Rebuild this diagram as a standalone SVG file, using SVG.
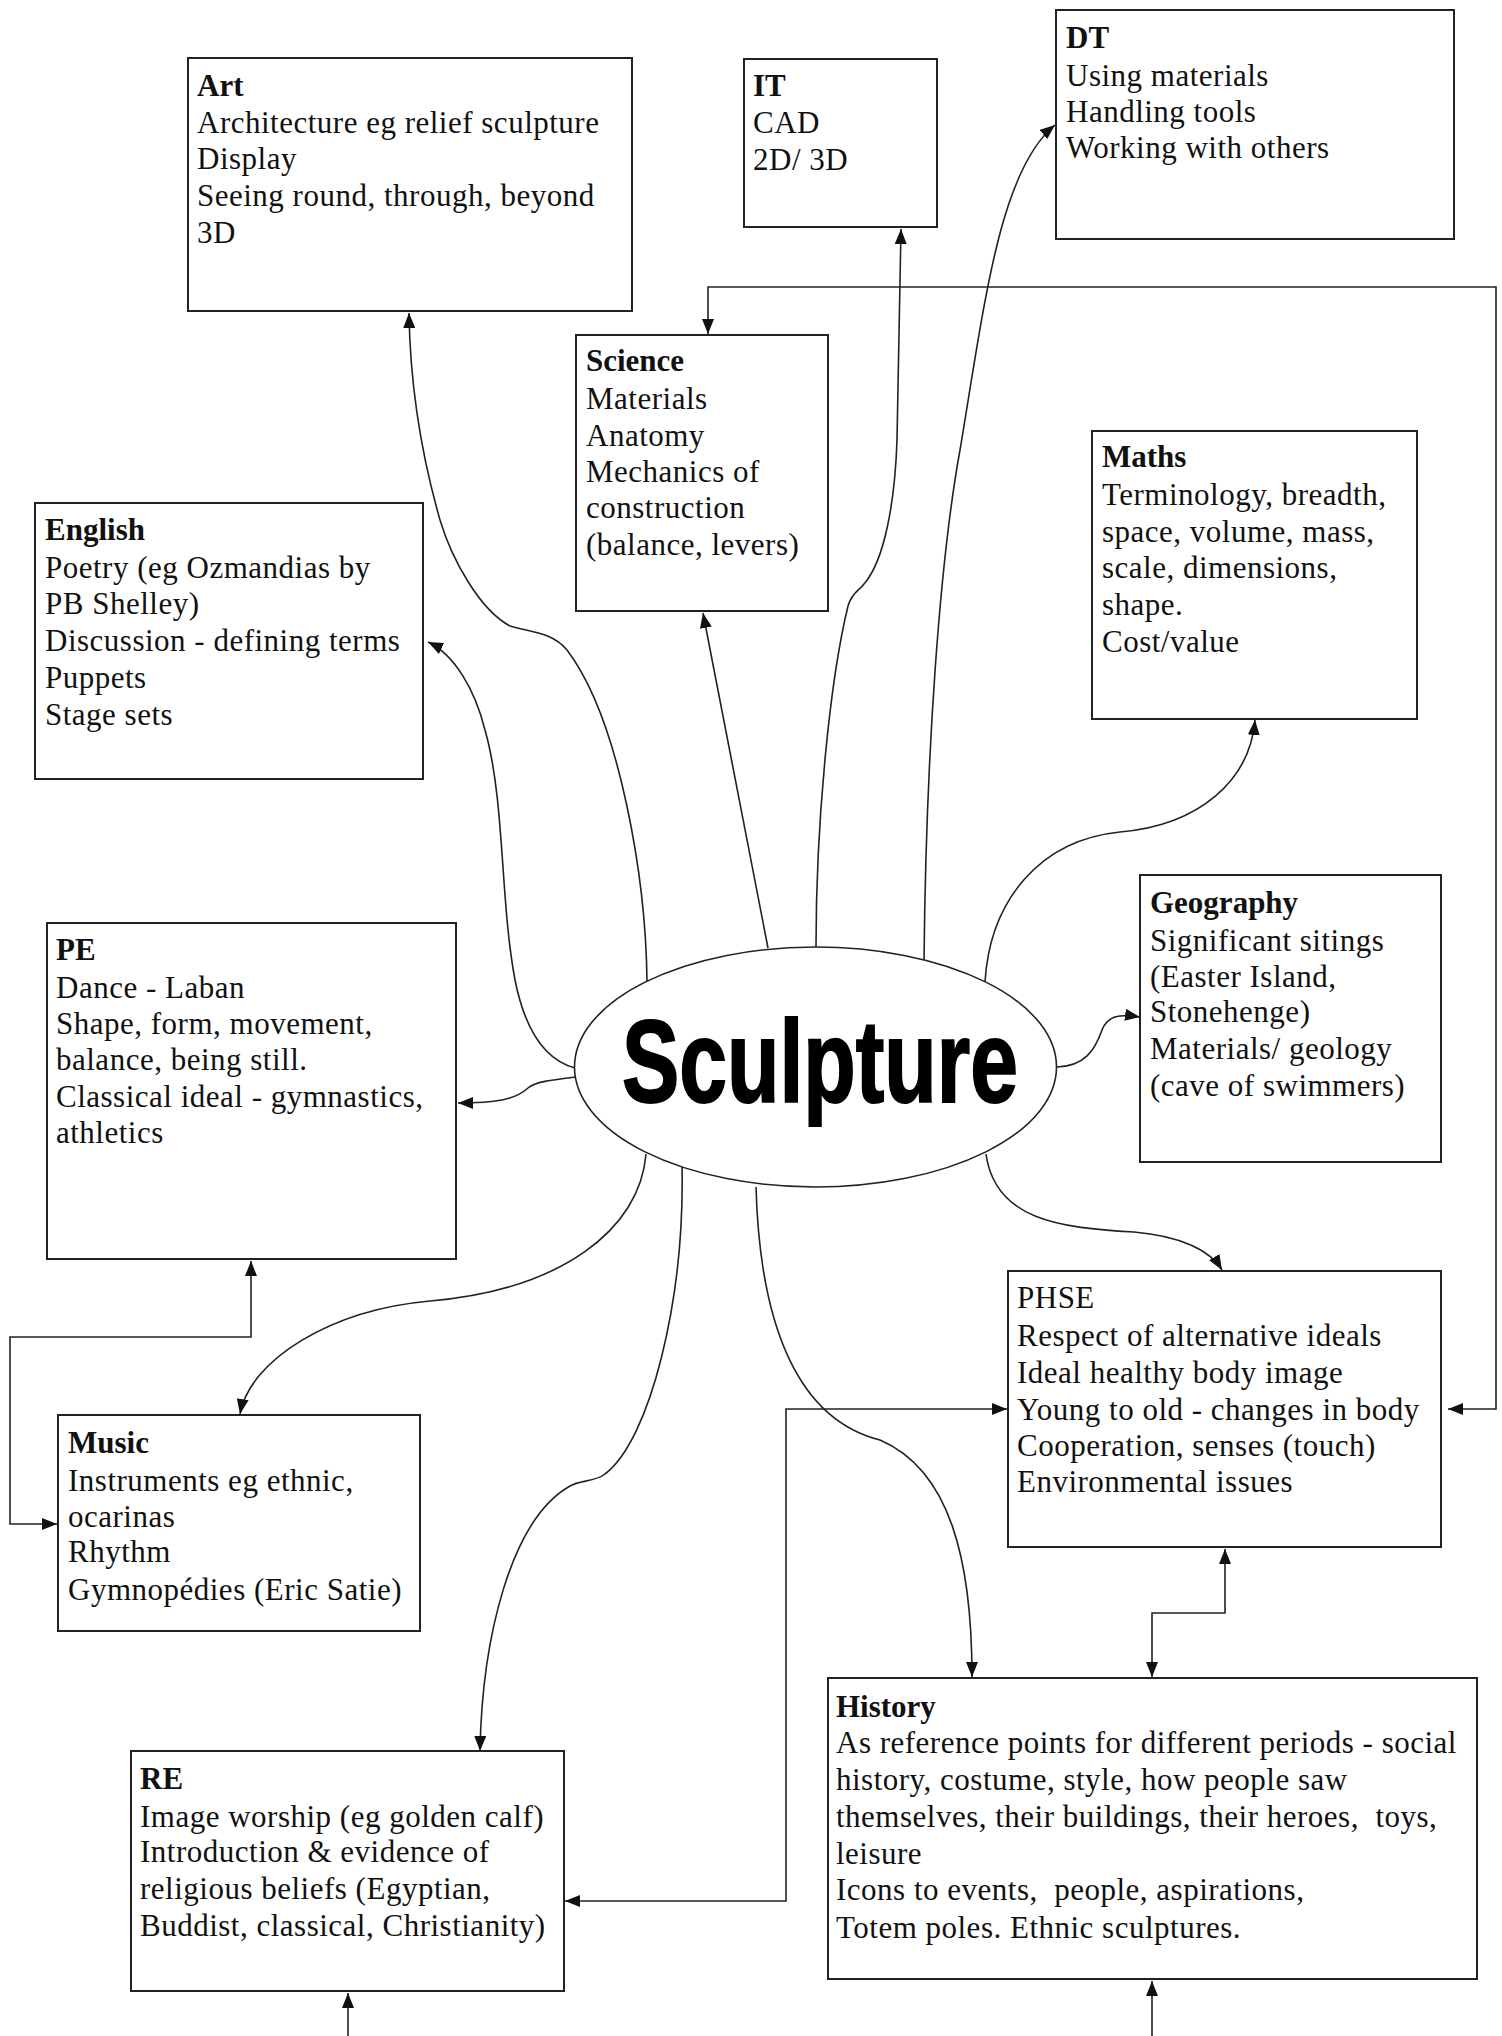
<svg xmlns="http://www.w3.org/2000/svg" width="1502" height="2036" viewBox="0 0 1502 2036">
<defs>
<style>
.box{fill:#fff;stroke:#222;stroke-width:2}
.t{font-family:"Liberation Serif","Times New Roman",serif;font-size:31px;letter-spacing:0.5px;fill:#111}
.b{font-weight:bold;letter-spacing:0}
.c{fill:none;stroke:#222;stroke-width:1.6}
.arr{marker-end:url(#ah)}
.both{marker-start:url(#ah);marker-end:url(#ah)}
</style>
<marker id="ah" viewBox="0 0 15 12" refX="15" refY="6" markerWidth="15" markerHeight="12" markerUnits="userSpaceOnUse" orient="auto-start-reverse">
<path d="M0 0 L15 6 L0 12 z" fill="#111"/>
</marker>
</defs>
<rect width="1502" height="2036" fill="#fff"/>

<g id="connectors">
<path class="c both" d="M708 334 V287 H1496 V1409 H1448"/>
<path class="c both" d="M1007 1409 H786 V1901 H565"/>
<path class="c both" d="M1225 1549 V1613 H1152 V1677"/>
<path class="c both" d="M251 1261 V1337 H10 V1524 H57"/>
<path class="c arr" d="M348 2036 V1993"/>
<path class="c arr" d="M1152 2036 V1981"/>
<path class="c arr" d="M647 982 C646 880 620 720 567 650 C552 632 530 632 510 626 C480 610 452 560 440 520 C420 450 410 380 409 313"/>
<path class="c arr" d="M575 1068 C545 1060 525 1030 515 980 C500 900 505 800 485 730 C475 690 455 655 428 642"/>
<path class="c arr" d="M768 948 L703 613"/>
<path class="c arr" d="M816 947 C816 820 830 680 848 606 C852 592 860 590 864 584 C885 560 895 500 897 440 C899 350 900 280 901 229"/>
<path class="c arr" d="M924 963 C926 750 940 560 960 450 C985 300 1000 170 1055 125"/>
<path class="c arr" d="M985 982 C990 900 1040 840 1120 832 C1200 825 1250 780 1255 720"/>
<path class="c arr" d="M1057 1067 C1085 1066 1095 1050 1102 1030 C1108 1015 1120 1014 1140 1017"/>
<path class="c arr" d="M576 1077 C550 1080 535 1082 528 1088 C515 1100 495 1103 458 1103"/>
<path class="c arr" d="M646 1154 C640 1230 560 1290 430 1301 C330 1310 250 1360 240 1414"/>
<path class="c arr" d="M682 1164 C685 1300 650 1440 605 1474 C595 1482 580 1480 570 1486 C510 1520 482 1640 480 1751"/>
<path class="c arr" d="M756 1187 C760 1330 800 1420 880 1440 C950 1470 972 1560 972 1677"/>
<path class="c arr" d="M986 1154 C995 1220 1060 1228 1134 1232 C1180 1236 1210 1250 1222 1270"/>
</g>

<g id="sculpture">
<ellipse cx="815.5" cy="1067" rx="241" ry="120" fill="#fff" stroke="#222" stroke-width="1.6"/>
<text x="622" y="1102" font-family="'Liberation Sans',Arial,sans-serif" font-size="116" font-weight="bold" textLength="396" lengthAdjust="spacingAndGlyphs" fill="#000" stroke="#000" stroke-width="2">Sculpture</text>
</g>

<g id="art">
<rect class="box" x="188" y="58" width="444" height="253"/>
<text class="t"><tspan class="b" x="197" y="96">Art</tspan><tspan x="197" y="133">Architecture eg relief sculpture</tspan><tspan x="197" y="169">Display</tspan><tspan x="197" y="206">Seeing round, through, beyond</tspan><tspan x="197" y="243">3D</tspan></text>
</g>

<g id="it">
<rect class="box" x="744" y="59" width="193" height="168"/>
<text class="t"><tspan class="b" x="753" y="96">IT</tspan><tspan x="753" y="133">CAD</tspan><tspan x="753" y="170">2D/ 3D</tspan></text>
</g>

<g id="dt">
<rect class="box" x="1056" y="10" width="398" height="229"/>
<text class="t"><tspan class="b" x="1066" y="48">DT</tspan><tspan x="1066" y="86">Using materials</tspan><tspan x="1066" y="122">Handling tools</tspan><tspan x="1066" y="158">Working with others</tspan></text>
</g>

<g id="science">
<rect class="box" x="576" y="335" width="252" height="276"/>
<text class="t"><tspan class="b" x="586" y="371">Science</tspan><tspan x="586" y="409">Materials</tspan><tspan x="586" y="446">Anatomy</tspan><tspan x="586" y="482">Mechanics of</tspan><tspan x="586" y="518">construction</tspan><tspan x="586" y="555">(balance, levers)</tspan></text>
</g>

<g id="maths">
<rect class="box" x="1092" y="431" width="325" height="288"/>
<text class="t"><tspan class="b" x="1102" y="467">Maths</tspan><tspan x="1102" y="505">Terminology, breadth,</tspan><tspan x="1102" y="542">space, volume, mass,</tspan><tspan x="1102" y="578">scale, dimensions,</tspan><tspan x="1102" y="615">shape.</tspan><tspan x="1102" y="652">Cost/value</tspan></text>
</g>

<g id="english">
<rect class="box" x="35" y="503" width="388" height="276"/>
<text class="t"><tspan class="b" x="45" y="540">English</tspan><tspan x="45" y="578">Poetry (eg Ozmandias by</tspan><tspan x="45" y="614">PB Shelley)</tspan><tspan x="45" y="651">Discussion - defining terms</tspan><tspan x="45" y="688">Puppets</tspan><tspan x="45" y="725">Stage sets</tspan></text>
</g>

<g id="pe">
<rect class="box" x="47" y="923" width="409" height="336"/>
<text class="t"><tspan class="b" x="56" y="960">PE</tspan><tspan x="56" y="998">Dance - Laban</tspan><tspan x="56" y="1034">Shape, form, movement,</tspan><tspan x="56" y="1070">balance, being still.</tspan><tspan x="56" y="1107">Classical ideal - gymnastics,</tspan><tspan x="56" y="1143">athletics</tspan></text>
</g>

<g id="geography">
<rect class="box" x="1140" y="875" width="301" height="287"/>
<text class="t"><tspan class="b" x="1150" y="913">Geography</tspan><tspan x="1150" y="951">Significant sitings</tspan><tspan x="1150" y="987">(Easter Island,</tspan><tspan x="1150" y="1022">Stonehenge)</tspan><tspan x="1150" y="1059">Materials/ geology</tspan><tspan x="1150" y="1096">(cave of swimmers)</tspan></text>
</g>

<g id="phse">
<rect class="box" x="1008" y="1271" width="433" height="276"/>
<text class="t"><tspan x="1017" y="1308">PHSE</tspan><tspan x="1017" y="1346">Respect of alternative ideals</tspan><tspan x="1017" y="1383">Ideal healthy body image</tspan><tspan x="1017" y="1420">Young to old - changes in body</tspan><tspan x="1017" y="1456">Cooperation, senses (touch)</tspan><tspan x="1017" y="1492">Environmental issues</tspan></text>
</g>

<g id="music">
<rect class="box" x="58" y="1415" width="362" height="216"/>
<text class="t"><tspan class="b" x="68" y="1453">Music</tspan><tspan x="68" y="1491">Instruments eg ethnic,</tspan><tspan x="68" y="1527">ocarinas</tspan><tspan x="68" y="1562">Rhythm</tspan><tspan x="68" y="1600">Gymnopédies (Eric Satie)</tspan></text>
</g>

<g id="re">
<rect class="box" x="131" y="1751" width="433" height="240"/>
<text class="t"><tspan class="b" x="140" y="1789">RE</tspan><tspan x="140" y="1827">Image worship (eg golden calf)</tspan><tspan x="140" y="1862">Introduction &amp; evidence of</tspan><tspan x="140" y="1899">religious beliefs (Egyptian,</tspan><tspan x="140" y="1936">Buddist, classical, Christianity)</tspan></text>
</g>

<g id="history">
<rect class="box" x="828" y="1678" width="649" height="301"/>
<text class="t" xml:space="preserve"><tspan class="b" x="836" y="1717">History</tspan><tspan x="836" y="1753">As reference points for different periods - social</tspan><tspan x="836" y="1790">history, costume, style, how people saw</tspan><tspan x="836" y="1827">themselves, their buildings, their heroes,  toys,</tspan><tspan x="836" y="1864">leisure</tspan><tspan x="836" y="1900">Icons to events,  people, aspirations,</tspan><tspan x="836" y="1938">Totem poles. Ethnic sculptures.</tspan></text>
</g>
</svg>
